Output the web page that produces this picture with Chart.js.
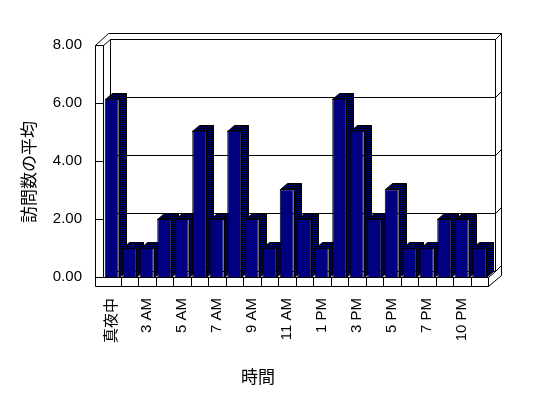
<!DOCTYPE html>
<html>
<head>
<meta charset="utf-8">
<script src="https://cdn.jsdelivr.net/npm/chart.js@4.4.0/dist/chart.umd.min.js"></script>
<style>
  html, body { margin: 0; padding: 0; background: #fff; }
  #wrap { width: 548px; height: 398px; }
</style>
</head>
<body>
<div id="wrap"><canvas id="grafico" width="548" height="398"></canvas></div>
<script>
// --- Dados do gráfico ---
const horas = ['真夜中', '1 AM', '3 AM', '4 AM', '5 AM', '6 AM', '7 AM', '8 AM', '9 AM', '10 AM', '11 AM',
  '12 PM', '1 PM', '2 PM', '3 PM', '4 PM', '5 PM', '6 PM', '7 PM', '8 PM', '10 PM', '11 PM'];
const mediaVisitas = [6.15, 1, 1, 2, 2, 5.05, 2, 5.05, 2, 1, 3.03, 2, 1, 6.15, 5.05, 2, 3.03, 1, 1, 2, 2, 1];
const ticksY = [0, 2, 4, 6, 8];
const tituloY = '訪問数の平均';
const tituloX = '時間';

// profundidade das paredes e das barras (efeito 3D)
const DX = 6.5, DY = -6;
const BDX = 7, BDY = -6;
const FONTE = '"Liberation Sans", "Noto Sans CJK JP", sans-serif';

const px = v => Math.round(v) + 0.5;

function linha(ctx, pts) {
  ctx.beginPath();
  ctx.moveTo(px(pts[0][0]), px(pts[0][1]));
  for (let i = 1; i < pts.length; i++) ctx.lineTo(px(pts[i][0]), px(pts[i][1]));
  ctx.stroke();
}

function poligono(ctx, pts, preenchimento) {
  ctx.beginPath();
  ctx.moveTo(px(pts[0][0]), px(pts[0][1]));
  for (let i = 1; i < pts.length; i++) ctx.lineTo(px(pts[i][0]), px(pts[i][1]));
  ctx.closePath();
  ctx.fillStyle = preenchimento;
  ctx.fill();
  ctx.stroke();
}

// hachura azul/preta para as faces laterais
function criarHachura(ctx) {
  const c = document.createElement('canvas');
  c.width = 2; c.height = 2;
  const g = c.getContext('2d');
  g.fillStyle = '#000080';
  g.fillRect(0, 0, 2, 2);
  g.fillStyle = '#000000';
  g.fillRect(0, 0, 1, 1);
  g.fillRect(1, 1, 1, 1);
  return ctx.createPattern(c, 'repeat');
}

const paredes3D = {
  id: 'paredes3D',
  beforeDatasetsDraw(chart) {
    const { ctx, chartArea, scales } = chart;
    const L = chartArea.left, R = chartArea.right, T = chartArea.top, B = chartArea.bottom;
    ctx.save();
    ctx.strokeStyle = '#000';
    ctx.lineWidth = 1;

    // parede do fundo
    linha(ctx, [[L + DX, T + DY], [R + DX, T + DY], [R + DX, B + DY], [L + DX, B + DY], [L + DX, T + DY]]);
    ticksY.forEach(v => {
      const yy = scales.y.getPixelForValue(v) + DY;
      linha(ctx, [[L + DX, yy], [R + DX, yy]]);
      linha(ctx, [[R + DX, yy], [R + DX + 6, yy - 6]]);
    });
    // bordas externas
    linha(ctx, [[L - 8, T], [L - 8 + 13, T - 12], [R + DX + 6, T - 12], [R + DX + 6, B + DY + 4]]);
    linha(ctx, [[L, T], [L + DX, T + DY]]);

    // parede lateral esquerda
    linha(ctx, [[L - 8, T], [L, T]]);
    linha(ctx, [[L - 8, T], [L - 8, B + 9]]);
    linha(ctx, [[L, T], [L, B]]);
    ticksY.forEach(v => {
      const yy = scales.y.getPixelForValue(v);
      linha(ctx, [[L - 8, yy], [L, yy]]);
    });

    // piso
    linha(ctx, [[L, B], [R, B]]);
    linha(ctx, [[L - 8, B + 9], [R, B + 9]]);
    linha(ctx, [[R, B], [R, B + 9]]);
    linha(ctx, [[R, B], [R + DX, B + DY]]);
    linha(ctx, [[R, B + 9], [R + DX + 6, B + DY + 4]]);
    for (let i = 1; i < horas.length; i++) {
      const xx = (scales.x.getPixelForValue(i - 1) + scales.x.getPixelForValue(i)) / 2;
      linha(ctx, [[xx, B], [xx, B + 9]]);
    }

    // topo e lateral de cada barra
    const hachura = criarHachura(ctx);
    chart.getDatasetMeta(0).data.forEach(barra => {
      const { x, y, base, width } = barra.getProps(['x', 'y', 'base', 'width'], true);
      const esq = x - width / 2, dir = x + width / 2;
      poligono(ctx, [[esq, y], [esq + BDX, y + BDY], [dir + BDX, y + BDY], [dir, y]], hachura);
      poligono(ctx, [[dir, y], [dir + BDX, y + BDY], [dir + BDX, base + BDY], [dir, base]], hachura);
    });
    ctx.restore();
  },
  afterDraw(chart) {
    const ctx = chart.ctx;
    ctx.save();
    ctx.fillStyle = '#000';
    ctx.font = '17px "Noto Sans CJK JP", sans-serif';
    ctx.textAlign = 'center';
    ctx.textBaseline = 'middle';
    ctx.fillText(tituloX, 258, 377);
    ctx.translate(29, 172);
    ctx.rotate(-Math.PI / 2);
    ctx.fillText(tituloY, 0, 0);
    ctx.restore();
  }
};

new Chart(document.getElementById('grafico').getContext('2d'), {
  type: 'bar',
  data: {
    labels: horas,
    datasets: [{
      label: tituloY,
      data: mediaVisitas,
      backgroundColor: '#000080',
      borderColor: '#000000',
      borderWidth: 1,
      categoryPercentage: 1,
      barPercentage: 0.8
    }]
  },
  options: {
    responsive: false,
    animation: false,
    devicePixelRatio: 1,
    layout: { padding: { top: 45, right: 60, bottom: 0, left: 0 } },
    plugins: { legend: { display: false }, tooltip: { enabled: false } },
    scales: {
      x: {
        grid: { display: false, drawTicks: false },
        border: { display: false },
        ticks: {
          autoSkip: false,
          maxRotation: 90,
          minRotation: 90,
          padding: 21,
          color: '#000',
          font: { family: FONTE, size: 15 },
          callback: (v, i) => (i % 2 === 0 ? horas[i] : '')
        },
        afterFit: s => { s.height = 121; }
      },
      y: {
        min: 0,
        max: 8,
        grid: { display: false, drawTicks: false },
        border: { display: false },
        ticks: {
          stepSize: 2,
          padding: 21,
          color: '#000',
          font: { family: FONTE, size: 15 },
          callback: v => v.toFixed(2)
        },
        afterFit: s => { s.width = 103; }
      }
    }
  },
  plugins: [paredes3D]
});
</script>
</body>
</html>
